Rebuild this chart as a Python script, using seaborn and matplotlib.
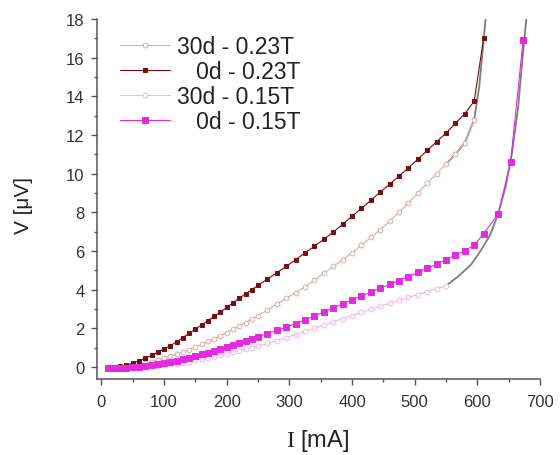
import numpy as np
import pandas as pd
import matplotlib
matplotlib.use("Agg")
import matplotlib.pyplot as plt
from matplotlib.ticker import MultipleLocator
import seaborn as sns

# Current steps (mA): fine steps at low current, coarser above 250 mA
I_low = [10, 20, 30, 40, 50, 60, 70, 80, 90, 100, 110, 120, 130, 140, 150,
         160, 170, 180, 190, 200, 210, 220, 230, 240, 250]
I_high = [265, 280, 295, 310, 325, 340, 355, 370, 385, 400, 415, 430, 445,
          460, 475, 490, 505, 520, 535, 550, 565, 580, 595]

# 0d - 0.23T
I_0d_023 = I_low + I_high + [610]
V_0d_023 = [-0.05, -0.02, 0.04, 0.10, 0.20, 0.32, 0.45, 0.60, 0.76, 0.93,
            1.10, 1.30, 1.52, 1.74, 1.96, 2.18, 2.40, 2.63, 2.85, 3.08,
            3.32, 3.55, 3.78, 4.00, 4.22,
            4.55, 4.88, 5.20, 5.55, 5.90, 6.25, 6.60, 6.98, 7.38, 7.80,
            8.20, 8.62, 9.05, 9.45, 9.88, 10.30, 10.75, 11.20, 11.65, 12.10,
            12.60, 13.10, 13.75,
            17.00]

# 30d - 0.23T
I_30d_023 = I_low + I_high
V_30d_023 = [-0.05, -0.04, -0.02, 0.02, 0.07, 0.13, 0.20, 0.28, 0.36, 0.45,
             0.55, 0.65, 0.77, 0.90, 1.03, 1.17, 1.32, 1.47, 1.62, 1.78,
             1.95, 2.12, 2.30, 2.48, 2.66,
             2.95, 3.25, 3.55, 3.85, 4.15, 4.50, 4.85, 5.20, 5.55, 5.90,
             6.30, 6.70, 7.10, 7.55, 8.00, 8.50, 9.00, 9.50, 10.00, 10.50,
             11.00, 11.60, 12.80]

# 0d - 0.15T
I_0d_015 = I_low + I_high + [610, 633, 653, 673]
V_0d_015 = [-0.05, -0.05, -0.04, -0.03, -0.01, 0.02, 0.05, 0.09, 0.14, 0.19,
            0.25, 0.32, 0.39, 0.47, 0.56, 0.65, 0.75, 0.85, 0.95, 1.05,
            1.15, 1.26, 1.36, 1.46, 1.56,
            1.73, 1.90, 2.07, 2.25, 2.44, 2.64, 2.84, 3.05, 3.26, 3.47,
            3.67, 3.87, 4.07, 4.27, 4.47, 4.68, 4.89, 5.10, 5.32, 5.55,
            5.78, 6.02, 6.30,
            6.90, 7.90, 10.60, 16.90]

# 30d - 0.15T
I_30d_015 = I_low + I_high[:-3]
V_30d_015 = [-0.05, -0.05, -0.05, -0.04, -0.03, -0.01, 0.01, 0.04, 0.07, 0.10,
             0.14, 0.18, 0.23, 0.28, 0.34, 0.40, 0.47, 0.54, 0.61, 0.68,
             0.76, 0.84, 0.92, 1.00, 1.08,
             1.22, 1.37, 1.52, 1.68, 1.84, 2.00, 2.16, 2.33, 2.50, 2.66,
             2.82, 2.98, 3.14, 3.30, 3.45, 3.60, 3.75, 3.90, 4.05, 4.20]

# Transition curves through the high-current region
I_fit_023 = [550, 565, 580, 595, 603, 608, 612, 616]
V_fit_023 = [10.5, 11.0, 11.6, 12.8, 14.5, 16.2, 17.6, 19.0]
I_fit_015 = [550, 570, 590, 605, 620, 633, 645, 655, 665, 673, 680]
V_fit_015 = [4.2, 4.7, 5.3, 6.0, 6.8, 7.9, 9.3, 11.0, 13.4, 16.3, 18.6]

x_ticks = [0, 100, 200, 300, 400, 500, 600, 700]
y_ticks = [0, 2, 4, 6, 8, 10, 12, 14, 16, 18]

sns.set_theme(style="white")
plt.rcParams["font.family"] = ["Liberation Sans", "DejaVu Sans"]
plt.rcParams["mathtext.fontset"] = "custom"
plt.rcParams["mathtext.rm"] = "Liberation Serif"

fig = plt.figure(figsize=(5.6, 4.56), dpi=100)
ax = fig.add_axes([97 / 560, 1 - 380 / 456, 443 / 560, 360 / 456])

grey = "#7d7d7d"
sns.lineplot(x=I_fit_023, y=V_fit_023, ax=ax, color=grey, lw=1.3,
             sort=False, zorder=1)
sns.lineplot(x=I_fit_015, y=V_fit_015, ax=ax, color=grey, lw=1.3,
             sort=False, zorder=1)

series = [
    ("30d - 0.23T", I_30d_023, V_30d_023, "#d8a9a9", "o", "white", 3.4),
    ("\u2007 0d - 0.23T", I_0d_023, V_0d_023, "#7a0c0c", "s", None, 3.2),
    ("30d - 0.15T", I_30d_015, V_30d_015, "#f2b3ef", "o", "white", 3.4),
    ("\u2007 0d - 0.15T", I_0d_015, V_0d_015, "#e42ae0", "s", None, 3.8),
]
for label, xs, ys, col, mk, face, ms in series:
    df = pd.DataFrame({"I": xs, "V": ys})
    sns.lineplot(data=df, x="I", y="V", ax=ax, color=col, lw=0.8,
                 marker=mk, markersize=ms,
                 markerfacecolor=face if face else col,
                 markeredgecolor=col, markeredgewidth=0.7,
                 label=label, zorder=2)

ax.set_xlim(-7, 700)
ax.set_ylim(-0.62, 18)
ax.set_xticks(x_ticks)
ax.set_yticks(y_ticks)
ax.xaxis.set_minor_locator(MultipleLocator(50))
ax.yaxis.set_minor_locator(MultipleLocator(1))
ax.tick_params(axis="both", which="major", direction="out", length=4,
               width=1, color="#555555", labelsize=12, labelcolor="#333333",
               bottom=True, left=True)
ax.tick_params(axis="x", which="major", pad=7)
ax.tick_params(axis="y", which="major", pad=5)
ax.tick_params(axis="both", which="minor", direction="out", length=2.5,
               width=1, color="#555555", bottom=True, left=True)
for side in ("top", "right"):
    ax.spines[side].set_visible(False)
for side in ("left", "bottom"):
    ax.spines[side].set_color("#555555")
    ax.spines[side].set_linewidth(1.1)

ax.set_xlabel(r"$\mathrm{I}$ [mA]", fontsize=17, color="#222222")
ax.set_ylabel("V [\u03bcV]", fontsize=15, color="#222222")
ax.xaxis.set_label_coords(318 / 560, 1 - 428 / 456, transform=fig.transFigure)
ax.yaxis.set_label_coords(33 / 560, 1 - 206 / 456, transform=fig.transFigure)

leg = ax.legend(loc="upper left", bbox_to_anchor=(120 / 560, 1 - 36 / 456),
                bbox_transform=fig.transFigure, frameon=False, fontsize=16.5,
                handlelength=2.2, handletextpad=0.3, labelspacing=0.09,
                borderpad=0, borderaxespad=0)
for t in leg.get_texts():
    t.set_color("#222222")

fig.savefig("out.png", dpi=100)
